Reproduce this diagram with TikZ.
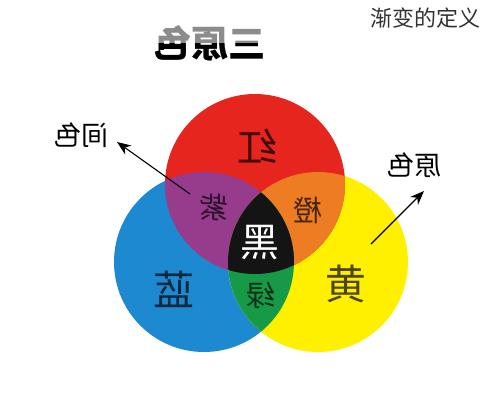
\documentclass[tikz,border=0pt]{standalone}
\usepackage{fontspec}
\newfontfamily\cjk{Noto Sans CJK SC}
\usetikzlibrary{arrows.meta}

\definecolor{hongse}{HTML}{E6251F}
\definecolor{lanse}{HTML}{1C89D1}
\definecolor{huangse}{HTML}{FFF000}
\definecolor{zise}{HTML}{973C8D}
\definecolor{chengse}{HTML}{EE7C23}
\definecolor{lvse}{HTML}{169A48}
\definecolor{heise}{HTML}{141414}

% mirrored text, as in the picture
\newcommand{\flip}[1]{\scalebox{-1}[1]{#1}}

\begin{document}
\begin{tikzpicture}[x=1pt, y=-1pt,
		    every node/.style={font=\cjk, inner sep=0pt},
		    colorname/.style={text=black, text opacity=0.7},
		    pointer/.style={-{Stealth[length=14pt,width=11pt]}, line width=1.1pt}]

\useasboundingbox (0,0) rectangle (490,400);

\coordinate (hong) at (255,184);
\coordinate (lan) at (204,262);
\coordinate (huang) at (318,262);

% three circles
\fill[lanse] (lan) circle (90pt);
\fill[huangse] (huang) circle (90pt);
\fill[hongse] (hong) circle (90pt);

% overlaps
\begin{scope}
    \clip (hong) circle (90pt);
    \fill[zise] (lan) circle (90pt);
    \fill[chengse] (huang) circle (90pt);
\end{scope}
\begin{scope}
    \clip (lan) circle (90pt);
    \fill[lvse] (huang) circle (90pt);
    \clip (hong) circle (90pt);
    \fill[heise] (huang) circle (90pt);
\end{scope}

% title
\node[text=black!45, font=\cjk\bfseries\fontsize{37}{37}\selectfont] (title) at (210,43) {\flip{三原色}};
\begin{scope}
    \clip (0,43) rectangle (490,80);
    \node[text=black, font=\cjk\bfseries\fontsize{37}{37}\selectfont] at (210,43) {\flip{三原色}};
\end{scope}

\node[text=black!80, font=\cjk\fontsize{22}{22}\selectfont] (topic) at (425,18) {渐变的定义};

% circle names
\node[colorname, font=\cjk\fontsize{40}{40}\selectfont] (red) at (257,146) {\flip{红}};
\node[colorname, font=\cjk\fontsize{41}{41}\selectfont] (blue) at (174,289) {\flip{蓝}};
\node[colorname, font=\cjk\fontsize{41}{41}\selectfont] (yellow) at (346,284) {\flip{黄}};
\node[colorname, font=\cjk\fontsize{29}{29}\selectfont] (purple) at (214,207) {\flip{紫}};
\node[colorname, font=\cjk\fontsize{29}{29}\selectfont] (orange) at (308,210) {\flip{橙}};
\node[colorname, font=\cjk\fontsize{29}{29}\selectfont] (green) at (261,295) {\flip{绿}};
\node[text=white, font=\cjk\fontsize{39}{39}\selectfont] (black) at (260,242) {\flip{黑}};

% pointers
\node[font=\cjk\fontsize{27}{27}\selectfont] (mixed) at (81,135) {\flip{间色}};
\node[font=\cjk\fontsize{27}{27}\selectfont] (primary) at (414,165) {\flip{原色}};
\coordinate (mixedtail) at (190,194);
\coordinate (mixedtip) at (117,142);
\coordinate (primarytail) at (371,244);
\coordinate (primarytip) at (424,191);
\draw[pointer] (mixedtail) -- (mixedtip);
\draw[pointer] (primarytail) -- (primarytip);

\end{tikzpicture}
\end{document}
